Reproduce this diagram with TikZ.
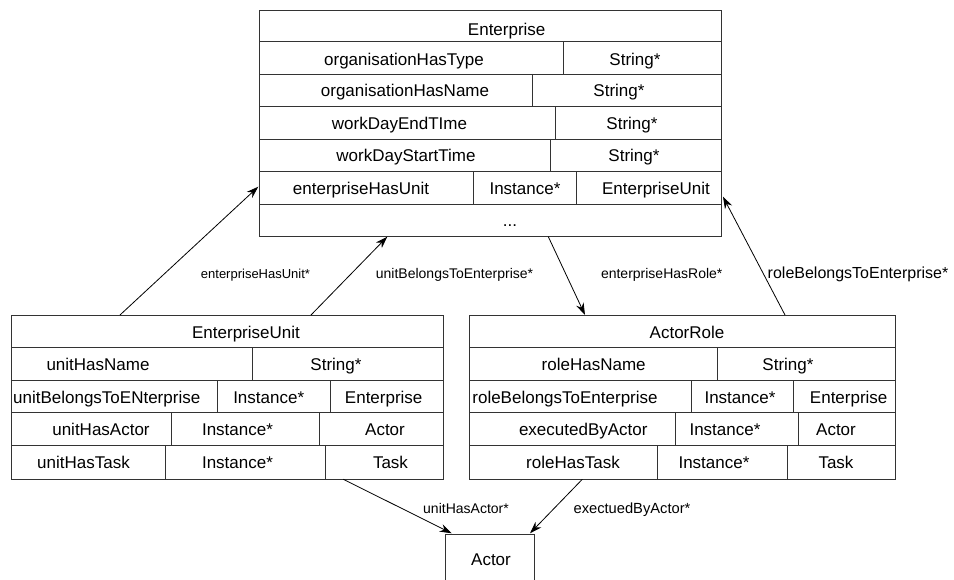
\documentclass[tikz,border=0pt]{standalone}
\usepackage{fontspec}
\setmainfont{Liberation Sans}
\usetikzlibrary{arrows.meta}
\begin{document}
\begin{tikzpicture}[x=1pt,y=-1pt,
  box/.style={draw=black!80, line width=0.9pt, inner sep=0pt, outer sep=0pt, anchor=north west, rectangle},
  sep/.style={draw=black!80, line width=0.9pt},
  cell/.style={anchor=base, inner sep=0pt, font=\fontsize{17}{20}\selectfont},
  lbl/.style={anchor=base, inner sep=0pt, font=\fontsize{14}{16}\selectfont},
  conn/.style={line width=0.8pt, -{Stealth[length=12pt,width=8pt]}}]
\useasboundingbox (0,0) rectangle (954,580);

% ---------- Enterprise ----------
\node[box, minimum width=462.4pt, minimum height=226.7pt] (ent) at (259.3,10) {};
\foreach \yy in {41.7,74,106.7,139,171.7,204}
  \draw[sep] (259.3,\yy) -- (721.7,\yy);
\draw[sep] (563.3,41.7) -- (563.3,74);
\draw[sep] (532.3,74) -- (532.3,106.7);
\draw[sep] (555,106.7) -- (555,139);
\draw[sep] (550.3,139) -- (550.3,171.7);
\draw[sep] (473.3,171.7) -- (473.3,204);
\draw[sep] (576,171.7) -- (576,204);
\node[cell] (et) at (506.7,36) {Enterprise};
\node[cell] (e1a) at (404,66) {organisationHasType};
\node[cell] (e1b) at (635,66) {String*};
\node[cell] (e2a) at (405,96.7) {organisationHasName};
\node[cell] (e2b) at (619,96.7) {String*};
\node[cell] (e3a) at (399.5,129.4) {workDayEndTIme};
\node[cell] (e3b) at (632,129.4) {String*};
\node[cell] (e4a) at (406,161.7) {workDayStartTime};
\node[cell] (e4b) at (634,161.7) {String*};
\node[cell] (e5a) at (361,194.4) {enterpriseHasUnit};
\node[cell] (e5b) at (525,194.4) {Instance*};
\node[cell] (e5c) at (656,194.4) {EnterpriseUnit};
\node[cell] (e6a) at (510,226.7) {...};

% ---------- EnterpriseUnit ----------
\node[box, minimum width=432.3pt, minimum height=164.3pt] (unit) at (11,315) {};
\foreach \yy in {347.3,380,412.7,445.7}
  \draw[sep] (11,\yy) -- (443.3,\yy);
\draw[sep] (252.3,347.3) -- (252.3,380);
\draw[sep] (217.3,380) -- (217.3,412.7);
\draw[sep] (330,380) -- (330,412.7);
\draw[sep] (171.7,412.7) -- (171.7,445.7);
\draw[sep] (319.3,412.7) -- (319.3,445.7);
\draw[sep] (165.7,445.7) -- (165.7,479.3);
\draw[sep] (325,445.7) -- (325,479.3);
\node[cell] (ut) at (246,338) {EnterpriseUnit};
\node[cell] (u1a) at (98,370.3) {unitHasName};
\node[cell] (u1b) at (336,370.3) {String*};
\node[cell] (u2a) at (106.7,403) {unitBelongsToENterprise};
\node[cell] (u2b) at (268.7,403) {Instance*};
\node[cell] (u2c) at (383.7,403) {Enterprise};
\node[cell] (u3a) at (101,435.7) {unitHasActor};
\node[cell] (u3b) at (237.5,435.7) {Instance*};
\node[cell] (u3c) at (385,435.7) {Actor};
\node[cell] (u4a) at (83.5,468.7) {unitHasTask};
\node[cell] (u4b) at (237.5,468.7) {Instance*};
\node[cell] (u4c) at (390.5,468.7) {Task};

% ---------- ActorRole ----------
\node[box, minimum width=426.4pt, minimum height=164.3pt] (role) at (469.3,315) {};
\foreach \yy in {347.3,380,412.7,445.7}
  \draw[sep] (469.3,\yy) -- (895.7,\yy);
\draw[sep] (717.3,347.3) -- (717.3,380);
\draw[sep] (691.7,380) -- (691.7,412.7);
\draw[sep] (793.3,380) -- (793.3,412.7);
\draw[sep] (675,412.7) -- (675,445.7);
\draw[sep] (798.3,412.7) -- (798.3,445.7);
\draw[sep] (657.7,445.7) -- (657.7,479.3);
\draw[sep] (787.3,445.7) -- (787.3,479.3);
\node[cell] (rt) at (687,338) {ActorRole};
\node[cell] (r1a) at (593.7,370.3) {roleHasName};
\node[cell] (r1b) at (788,370.3) {String*};
\node[cell] (r2a) at (565,403) {roleBelongsToEnterprise};
\node[cell] (r2b) at (740,403) {Instance*};
\node[cell] (r2c) at (848.7,403) {Enterprise};
\node[cell] (r3a) at (583.3,435.7) {executedByActor};
\node[cell] (r3b) at (725,435.7) {Instance*};
\node[cell] (r3c) at (836,435.7) {Actor};
\node[cell] (r4a) at (573,468.7) {roleHasTask};
\node[cell] (r4b) at (714,468.7) {Instance*};
\node[cell] (r4c) at (836,468.7) {Task};

% ---------- Actor ----------
\node[box, minimum width=88.6pt, minimum height=50pt] (actor) at (445.7,534.3) {};
\node[cell] (at) at (491,565) {Actor};

% ---------- connector end points ----------
\coordinate (u1) at (120,315);
\coordinate (e1) at (258.3,186.7);
\coordinate (u2) at (311,315);
\coordinate (e2) at (387.3,236.7);
\coordinate (e3) at (548.3,236.7);
\coordinate (r3) at (585,315);
\coordinate (r4) at (785,315);
\coordinate (e4) at (723,196.7);
\coordinate (u5) at (343.3,479.3);
\coordinate (a5) at (451.7,533.3);
\coordinate (r6) at (582.3,479.3);
\coordinate (a6) at (530,533.3);

\draw[conn] (u1) -- (e1);
\draw[conn] (u2) -- (e2);
\draw[conn] (e3) -- (r3);
\draw[conn] (r4) -- (e4);
\draw[conn] (u5) -- (a5);
\draw[conn] (r6) -- (a6);

\node[lbl, font=\fontsize{13}{15}\selectfont] (l1) at (255.5,279) {enterpriseHasUnit*};
\node[lbl] (l2) at (454.5,279) {unitBelongsToEnterprise*};
\node[lbl] (l3) at (661.7,279) {enterpriseHasRole*};
\node[lbl, font=\fontsize{16}{18}\selectfont] (l4) at (858,279) {roleBelongsToEnterprise*};
\node[lbl] (l5) at (466,513) {unitHasActor*};
\node[lbl, font=\fontsize{14.7}{17}\selectfont] (l6) at (632,513) {exectuedByActor*};
\end{tikzpicture}
\end{document}
